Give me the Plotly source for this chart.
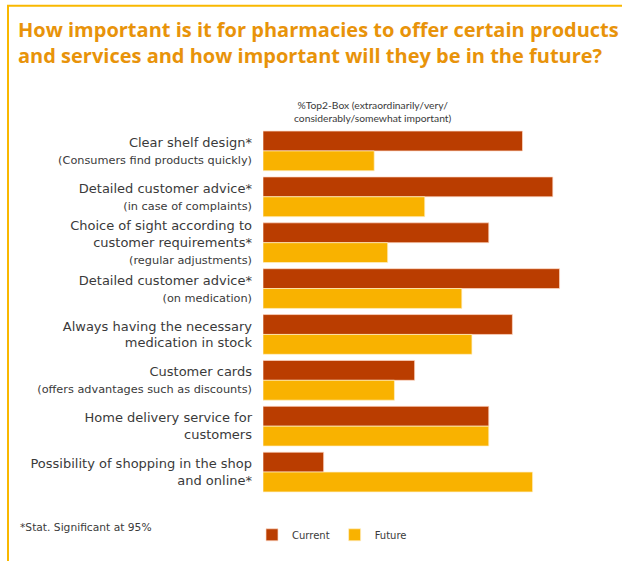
import plotly.graph_objects as go

W, H = 622, 561
ML, MR, MT, MB = 263, 22, 128, 64

categories = [
    "Clear shelf design*<br><span style='font-size:11.3px'>(Consumers find products quickly)</span>",
    "Detailed customer advice*<br><span style='font-size:11.3px'>(in case of complaints)</span>",
    "Choice of sight according to<br>customer requirements*<br><span style='font-size:11.3px'>(regular adjustments)</span>",
    "Detailed customer advice*<br><span style='font-size:11.3px'>(on medication)</span>",
    "Always having the necessary<br>medication in stock",
    "Customer cards<br><span style='font-size:11.3px'>(offers advantages such as discounts)</span>",
    "Home delivery service for<br>customers",
    "Possibility of shopping in the shop<br>and online*",
]
current = [77, 86, 67, 88, 74, 45, 67, 18]
future = [33, 48, 37, 59, 62, 39, 67, 80]

C_CUR = "#BA3D00"
C_FUT = "#F9B200"
FRAME = "#F9B800"
TXT = "#3a3a3a"
FONT = "DejaVu Sans"

fig = go.Figure()
fig.add_trace(go.Bar(y=categories, x=current, name="Current", orientation="h",
                     marker=dict(color=C_CUR, line=dict(color="rgba(255,220,200,0.7)", width=1))))
fig.add_trace(go.Bar(y=categories, x=future, name="Future", orientation="h",
                     marker=dict(color=C_FUT, line=dict(color="rgba(255,240,200,0.7)", width=1))))

pw = W - ML - MR
ph = H - MT - MB
def px(x):
    return (x - ML) / pw
def py(y):
    return (H - MB - y) / ph

fig.update_layout(
    width=W, height=H,
    margin=dict(l=ML, r=MR, t=MT, b=MB),
    paper_bgcolor="white", plot_bgcolor="white",
    barmode="group", bargap=0.134, bargroupgap=0,
    font=dict(family=FONT, color=TXT, size=12),
    xaxis=dict(range=[0, 100], visible=False, fixedrange=True),
    yaxis=dict(autorange="reversed", showgrid=False, showline=False, zeroline=False,
               ticks="", ticklabelstandoff=10, tickfont=dict(size=13, color=TXT, family=FONT)),
    showlegend=True,
    legend=dict(orientation="h", x=px(252), xanchor="left", y=py(537), yanchor="middle",
                font=dict(size=10, color=TXT, family=FONT), traceorder="normal",
                bgcolor="rgba(0,0,0,0)"),
)

fig.add_annotation(text="<b>How important is it for pharmacies to offer certain products<br>and services and how important will they be in the future?</b>",
                   xref="paper", yref="paper", x=px(16), y=py(13), xanchor="left", yanchor="top",
                   align="left", showarrow=False,
                   font=dict(family="Open Sans", size=20, color="#E8930A"))
fig.add_annotation(text="%Top2-Box (extraordinarily/very/<br>considerably/somewhat important)",
                   xref="paper", yref="paper", x=px(373), y=py(111), xanchor="center", yanchor="middle",
                   showarrow=False, font=dict(size=10.3, color=TXT, family="Lato"))
fig.add_annotation(text="*Stat. Significant at 95%", xref="paper", yref="paper",
                   x=px(18), y=py(530), xanchor="left", yanchor="middle", showarrow=False,
                   font=dict(size=10.7, color=TXT, family=FONT))

fig.add_shape(type="line", xref="paper", yref="paper", x0=px(8), x1=px(8), y0=py(5), y1=py(570),
              line=dict(color=FRAME, width=2))
fig.add_shape(type="line", xref="paper", yref="paper", x0=px(7), x1=px(630), y0=py(5), y1=py(5),
              line=dict(color=FRAME, width=2))

fig.write_html("out.html")
